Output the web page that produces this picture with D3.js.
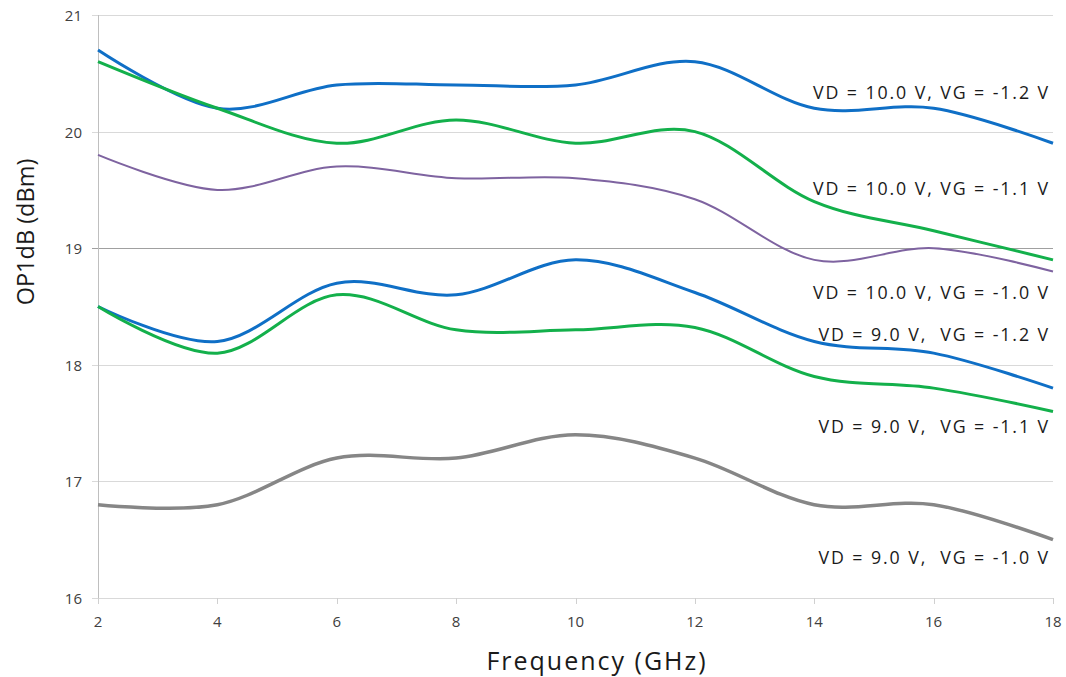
<!DOCTYPE html>
<html>
<head>
<meta charset="utf-8">
<script src="https://cdn.jsdelivr.net/npm/d3@7"></script>
<style>
  body { margin: 0; background: #fff; }
  text { font-family: "Open Sans", "Noto Sans", sans-serif; }
</style>
</head>
<body>
<svg id="chart" width="1066" height="677"></svg>
<script>
const freqs = [2, 4, 6, 8, 10, 12, 14, 16, 18]
const yTicks = [16, 17, 18, 19, 20, 21]
const xTicks = [2, 4, 6, 8, 10, 12, 14, 16, 18]

const vd10vg12 = [20.7, 20.2, 20.4, 20.4, 20.4, 20.6, 20.2, 20.2, 19.9]
const vd10vg11 = [20.6, 20.2, 19.9, 20.1, 19.9, 20.0, 19.4, 19.15, 18.9]
const vd10vg10 = [19.8, 19.5, 19.7, 19.6, 19.6, 19.42, 18.9, 19.0, 18.8]
const vd9vg12 = [18.5, 18.2, 18.7, 18.6, 18.9, 18.62, 18.2, 18.1, 17.8]
const vd9vg11 = [18.5, 18.1, 18.6, 18.3, 18.3, 18.32, 17.9, 17.8, 17.6]
const vd9vg10 = [16.8, 16.8, 17.2, 17.2, 17.4, 17.2, 16.8, 16.8, 16.5]

const series = [
    {name: "VD = 10.0 V, VG = -1.2 V", values: vd10vg12, color: "#0f6fc6", width: 3, labelY: 99},
    {name: "VD = 10.0 V, VG = -1.1 V", values: vd10vg11, color: "#13b04b", width: 3, labelY: 195},
    {name: "VD = 10.0 V, VG = -1.0 V", values: vd10vg10, color: "#7e63a0", width: 2, labelY: 299},
    {name: "VD = 9.0 V,  VG = -1.2 V", values: vd9vg12, color: "#0f6fc6", width: 3, labelY: 341},
    {name: "VD = 9.0 V,  VG = -1.1 V", values: vd9vg11, color: "#13b04b", width: 3, labelY: 433},
    {name: "VD = 9.0 V,  VG = -1.0 V", values: vd9vg10, color: "#868686", width: 3.5, labelY: 564}
]

const plotLeft = 98, plotRight = 1053, plotTop = 15, plotBottom = 598

const x = d3.scaleLinear().domain([2, 18]).range([plotLeft, plotRight])
const y = d3.scaleLinear().domain([16, 21]).range([plotBottom, plotTop])

const svg = d3.select("#chart")

// grid
svg.append("g")
    .selectAll("line")
    .data(yTicks)
    .enter()
    .append("line")
        .attr("x1", plotLeft - 6)
        .attr("x2", plotRight)
        .attr("y1", d => Math.round(y(d)) + 0.5)
        .attr("y2", d => Math.round(y(d)) + 0.5)
        .attr("stroke", d => d === 19 ? "#a0a0a0" : "#d9d9d9")
        .attr("stroke-width", 1)

// y axis line
svg.append("line")
    .attr("x1", plotLeft + 0.5).attr("x2", plotLeft + 0.5)
    .attr("y1", plotTop).attr("y2", plotBottom + 6)
    .attr("stroke", "#bfbfbf")

// x ticks
svg.append("g")
    .selectAll("line")
    .data(xTicks)
    .enter()
    .append("line")
        .attr("x1", d => Math.round(x(d)) + 0.5)
        .attr("x2", d => Math.round(x(d)) + 0.5)
        .attr("y1", plotBottom)
        .attr("y2", plotBottom + 6)
        .attr("stroke", "#d0d0d0")

svg.append("g")
    .selectAll("text")
    .data(yTicks)
    .enter()
    .append("text")
        .attr("x", 82)
        .attr("y", d => y(d) + 6)
        .attr("text-anchor", "end")
        .attr("font-size", 15)
        .attr("fill", "#404040")
        .text(d => d)

svg.append("g")
    .selectAll("text")
    .data(xTicks)
    .enter()
    .append("text")
        .attr("x", d => x(d))
        .attr("y", 627)
        .attr("text-anchor", "middle")
        .attr("font-size", 15)
        .attr("fill", "#404040")
        .text(d => d)

// axis titles
svg.append("text")
    .attr("x", 597).attr("y", 670)
    .attr("text-anchor", "middle")
    .attr("font-size", 25)
    .attr("letter-spacing", 2)
    .attr("fill", "#1a1a1a")
    .text("Frequency (GHz)")

svg.append("text")
    .attr("transform", "translate(34,232) rotate(-90)")
    .attr("text-anchor", "middle")
    .attr("font-size", 23.5)
    .attr("fill", "#1a1a1a")
    .text("OP1dB (dBm)")

// curves
const line = d3.line()
    .x((d, i) => x(freqs[i]))
    .y(d => y(d))
    .curve(d3.curveCatmullRom.alpha(0))

svg.append("g")
    .selectAll("path")
    .data(series)
    .enter()
    .append("path")
        .attr("d", d => line(d.values))
        .attr("fill", "none")
        .attr("stroke", d => d.color)
        .attr("stroke-width", d => d.width)

svg.append("g")
    .selectAll("text")
    .data(series)
    .enter()
    .append("text")
        .attr("x", 1050)
        .attr("y", d => d.labelY)
        .attr("text-anchor", "end")
        .attr("font-size", 17.8)
        .attr("letter-spacing", 1.9)
        .attr("fill", "#1a1a1a")
        .style("white-space", "pre")
        .text(d => d.name)
</script>
</body>
</html>
